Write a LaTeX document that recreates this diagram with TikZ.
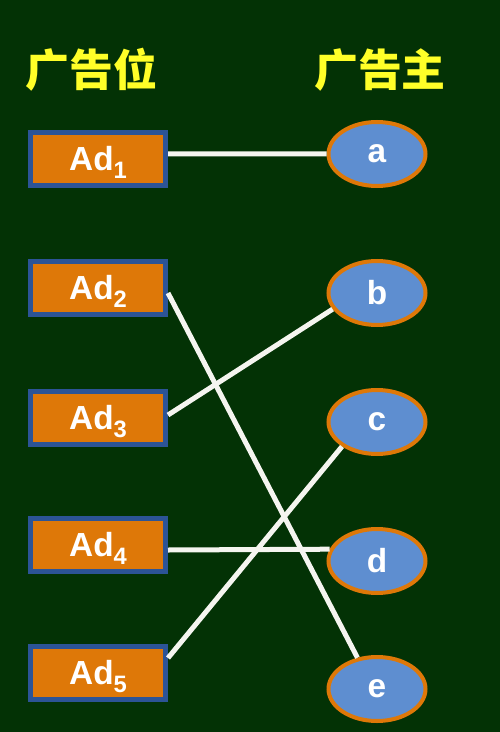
\documentclass[tikz,border=0pt]{standalone}
\usepackage{fontspec}
\setmainfont{Liberation Sans}
\newfontfamily\cjk{Noto Sans CJK SC}
\usepackage{tikz}
\usetikzlibrary{shapes,positioning,calc}

\definecolor{board}{RGB}{3,50,5}
\definecolor{slotfill}{RGB}{222,120,8}
\definecolor{slotedge}{RGB}{44,84,150}
\definecolor{advfill}{RGB}{94,142,208}
\definecolor{advedge}{RGB}{222,120,8}
\definecolor{chalk}{RGB}{245,245,240}
\definecolor{titlecol}{RGB}{255,255,40}

\newcommand{\adlabel}[1]{Ad\smash{\raisebox{-0.45ex}{\fontsize{13.5}{13.5}\selectfont #1}}}

\begin{document}
\begin{tikzpicture}[
    slotnode/.style={rectangle, draw=slotedge, fill=slotfill, line width=0.1cm,
        minimum width=2.7cm, minimum height=1.06cm, text=white,
        font=\fontsize{19}{19}\selectfont\bfseries},
    advnode/.style={ellipse, draw=advedge, fill=advfill, line width=0.08cm,
        minimum width=1.94cm, minimum height=1.28cm, text=white, inner sep=0pt,
        font=\fontsize{19}{19}\selectfont\bfseries},
    title/.style={text=titlecol, font=\cjk\fontsize{25}{25}\selectfont\bfseries},
    link/.style={draw=chalk, line width=0.1cm}
]
    % board
    \fill[board] (0,0) rectangle (10,-14.64);
    \useasboundingbox (0,0) rectangle (10,-14.64);

    % headings
    \node[title] (hslot) at (1.83,-1.4) {广告位};
    \node[title] (hadv) at (7.6,-1.4) {广告主};

    % ad slots
    \foreach \i/\y in {1/-3.18, 2/-5.76, 3/-8.36, 4/-10.9, 5/-13.46} {
        \node[slotnode] (ad\i) at (1.96,\y) {\adlabel{\i}};
    }

    % advertisers
    \foreach \n/\y in {a/-3.08, b/-5.86, c/-8.44, d/-11.22, e/-13.78} {
        \node[advnode] (\n) at (7.54,\y) {\n};
    }

    % matching
    \draw[link] ([yshift=0.1cm]ad1.east) -- (a.west);
    \draw[link] ([yshift=-0.1cm]ad2.east) -- (e.122);
    \draw[link] ([yshift=0.06cm]ad3.east) -- (b.200);
    \draw[link] ([yshift=-0.1cm]ad4.east) -- (d.166);
    \draw[link] ([yshift=0.3cm]ad5.east) -- (c.215);
\end{tikzpicture}
\end{document}
